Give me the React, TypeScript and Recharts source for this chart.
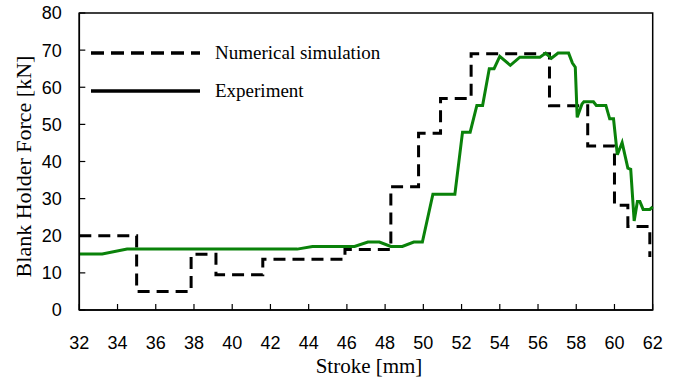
import { LineChart, Line, XAxis, YAxis, ReferenceArea, Legend } from "recharts";

const X_TICKS = [32, 34, 36, 38, 40, 42, 44, 46, 48, 50, 52, 54, 56, 58, 60, 62];
const Y_TICKS = [0, 10, 20, 30, 40, 50, 60, 70, 80];

// Simulation output is piecewise constant: stroke where each level starts
const simStroke = [32, 35, 37.85, 39.15, 41.6, 45.9, 48.3, 49.75, 50.9, 52.5, 56.6, 58.6, 60, 60.7, 61.85];
const simForce = [20, 5, 15, 9.5, 13.7, 16.3, 33.2, 47.6, 57, 69, 55, 44.2, 28.2, 22.5, 14.3];

// Measured force along the stroke
const expStroke = [
  32, 33.2, 34.5, 43.4, 44.2, 46.4, 47.1, 47.7, 48.3, 48.9, 49.5, 49.95, 50.5, 51.65,
  52.05, 52.45, 52.8, 53.1, 53.45, 53.7, 54.0, 54.55, 55.05, 56.1, 56.4, 56.7, 57.05,
  57.6, 57.8, 57.95, 58.05, 58.3, 58.4, 58.9, 59.05, 59.55, 59.75, 59.95, 60.15, 60.4,
  60.7, 60.85, 61.03, 61.2, 61.33, 61.5, 61.85, 62,
];
const expForce = [
  15.1, 15.1, 16.4, 16.4, 17.1, 17.1, 18.3, 18.3, 17.1, 17.1, 18.3, 18.3, 31.2, 31.2,
  47.9, 47.9, 55.1, 55.1, 65, 65, 68.3, 65.9, 68.1, 68.1, 69.2, 67.8, 69.2,
  69.2, 66.5, 65.4, 51.9, 55.5, 56.1, 56.1, 55.1, 55.1, 51.5, 51.5, 41.8, 45.1,
  38.2, 37.9, 24, 29.2, 29.2, 27.1, 27.1, 27.8,
];

const simData = simStroke.map((x, i) => ({ x, y: simForce[i] }));
const expData = expStroke.map((x, i) => ({ x, y: expForce[i] }));

const GREEN = "#0a820a";
const SANS = "'Liberation Sans', Arial, sans-serif";
const SERIF = "'Liberation Serif', 'Times New Roman', serif";

const LEGEND_ITEMS = [
  { name: "Numerical simulation", dash: "13 7", y: 53 },
  { name: "Experiment", dash: undefined, y: 91 },
];

function renderLegend() {
  return (
    <svg width={683} height={380} style={{ display: "block" }}>
      {LEGEND_ITEMS.map((it) => (
        <g key={it.name}>
          <line x1={91} x2={200} y1={it.y} y2={it.y} stroke="#000" strokeWidth={3.5} strokeDasharray={it.dash} />
          <text x={215} y={it.y} dy="0.33em" fontFamily={SERIF} fontSize={19} fill="#000">
            {it.name}
          </text>
        </g>
      ))}
    </svg>
  );
}

function xTitle(props: any) {
  const { viewBox } = props;
  return (
    <text x={viewBox.x + viewBox.width / 2 + 3} y={viewBox.y + 63} textAnchor="middle" fontFamily={SERIF} fontSize={21} fill="#000">
      Stroke [mm]
    </text>
  );
}

function yTitle(props: any) {
  const { viewBox } = props;
  const cx = viewBox.x + 4;
  const cy = viewBox.y + viewBox.height / 2 + 5;
  return (
    <text x={cx} y={cy} transform={`rotate(-90 ${cx} ${cy})`} textAnchor="middle" dominantBaseline="central" fontFamily={SERIF} fontSize={22} fill="#000">
      Blank Holder Force [kN]
    </text>
  );
}

export default function App() {
  return (
    <div style={{ position: "absolute", left: 0, top: 0, width: 683, height: 380, background: "#fff" }}>
      <LineChart width={683} height={380} margin={{ top: 13, right: 30.3, left: 19.3, bottom: 10 }}>
        <XAxis
          type="number"
          dataKey="x"
          domain={[32, 62]}
          ticks={X_TICKS}
          interval={0}
          height={60}
          tickSize={-6}
          tickMargin={32.7}
          axisLine={{ stroke: "#000", strokeWidth: 1.5 }}
          tickLine={{ stroke: "#000", strokeWidth: 1.2 }}
          tick={{ fill: "#000", fontSize: 18, fontFamily: SANS }}
          label={{ content: xTitle }}
        />
        <YAxis
          type="number"
          domain={[0, 80]}
          ticks={Y_TICKS}
          interval={0}
          width={60}
          tickSize={-6}
          tickMargin={23.6}
          axisLine={{ stroke: "#000", strokeWidth: 1.5 }}
          tickLine={{ stroke: "#000", strokeWidth: 1.2 }}
          tick={{ fill: "#000", fontSize: 18, fontFamily: SANS }}
          label={{ content: yTitle }}
        />
        <ReferenceArea x1={32} x2={62} y1={0} y2={80} fill="none" stroke="#000" strokeWidth={1.5} />
        <Line
          data={simData}
          dataKey="y"
          name="Numerical simulation"
          type="stepAfter"
          stroke="#000"
          strokeWidth={3}
          strokeDasharray="12 7"
          dot={false}
          isAnimationActive={false}
        />
        <Line
          data={expData}
          dataKey="y"
          name="Experiment"
          type="linear"
          stroke={GREEN}
          strokeWidth={3}
          dot={false}
          isAnimationActive={false}
        />
        <Legend
          layout="horizontal"
          verticalAlign="middle"
          align="center"
          content={renderLegend}
          wrapperStyle={{ left: 0, top: 0, width: 683, height: 380, pointerEvents: "none" }}
        />
      </LineChart>
    </div>
  );
}
